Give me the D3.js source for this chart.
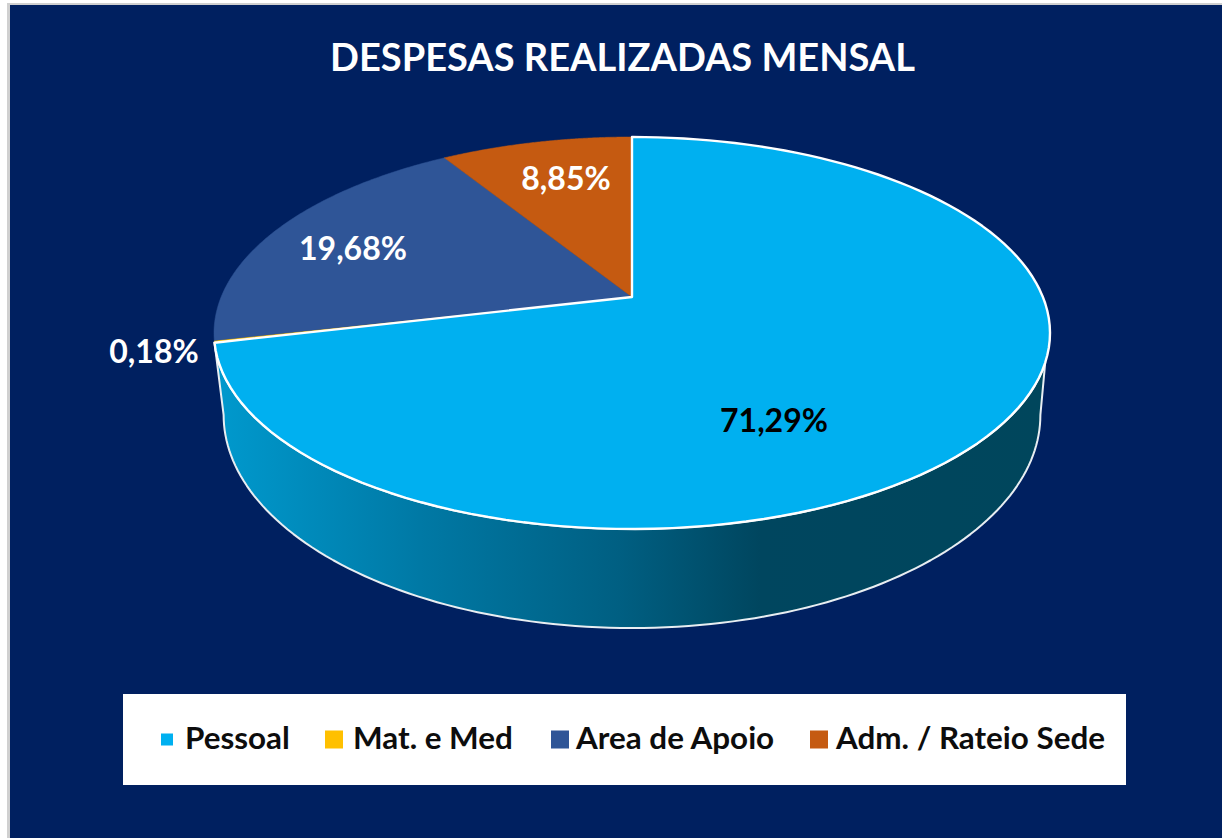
<!DOCTYPE html>
<html>
<head>
<meta charset="utf-8">
<script src="https://cdn.jsdelivr.net/npm/d3@7"></script>
<style>
    html, body { margin: 0; padding: 0; background: #fff; }
    svg { display: block; }
    text { font-family: Lato, "Noto Sans", sans-serif; font-weight: 700; }
</style>
</head>
<body>
<svg id="chart" width="1222" height="838"></svg>
<script>
const TITLE = "DESPESAS REALIZADAS MENSAL";
const CATEGORIES = ["Pessoal", "Mat. e Med", "Area de Apoio", "Adm. / Rateio Sede"];
const VALUES = [71.29, 0.18, 19.68, 8.85];
const COLORS = ["#00B0F0", "#FFC000", "#2F5597", "#C55A11"];

// layout
const W = 1222, H = 838;
const cx = 632, apexY = 297;
const rimBack = 160, rimFront = 232;     // apex to back / front of the top rim
const rimRx = 418;
const rimBottomY = 529, wallBottomY = 628;
const bottomScaleX = 0.977, bottomScaleY = 1.087;
const labelXY = [[774, 432], [154, 363], [353, 260], [566, 190]];
const labelFill = ["#000", "#fff", "#fff", "#fff"];
const legendXY = [
    { key: 161, size: 12, text: 185 },
    { key: 325, size: 18, text: 353 },
    { key: 551, size: 18, text: 576 },
    { key: 810, size: 18, text: 836 },
];

const svg = d3.select("#chart");

// ── Perspective disc ───────────────────────────────────────────────────────
// maps a pie angle (clockwise from 12 o'clock) onto the tilted top rim
const k = (rimFront - rimBack) / (rimFront + rimBack);
const a = rimFront * (1 - k);
const b = rimRx * Math.sqrt(1 - k * k);

function rim(angle) {
    const u = Math.sin(angle), v = -Math.cos(angle);
    const d = 1 - k * v;
    return [cx + b * u / d, apexY + a * v / d];
}
function bottom(angle) {
    const p = rim(angle);
    return [cx + (p[0] - cx) * bottomScaleX, wallBottomY - (rimBottomY - p[1]) * bottomScaleY];
}
function arcPoints(fn, from, to) {
    return d3.range(0, 121).map(i => fn(from + (to - from) * i / 120));
}

const line = d3.line();
const pie = d3.pie().sort(null).value(d => d);
const arcs = pie(VALUES);

// ── Frame ──────────────────────────────────────────────────────────────────
svg.append("rect").attr("x", 7).attr("y", 3).attr("width", W - 7).attr("height", H - 3).attr("fill", "#d0d0d0");
svg.append("rect").attr("x", 10).attr("y", 5).attr("width", W - 10).attr("height", H - 5).attr("fill", "#002060");

svg.append("text")
    .attr("x", 622.5).attr("y", 71)
    .attr("text-anchor", "middle")
    .attr("font-size", 38)
    .attr("fill", "#fff")
    .text(TITLE);

// ── Side wall ──────────────────────────────────────────────────────────────
const grad = svg.append("defs").append("linearGradient")
    .attr("id", "wall")
    .attr("gradientUnits", "userSpaceOnUse")
    .attr("x1", 224).attr("x2", 1040).attr("y1", 0).attr("y2", 0);
[[0, "#0098CC"], [0.24, "#0079A5"], [0.485, "#005F82"], [0.657, "#00465F"], [1, "#00465C"]]
    .forEach(s => grad.append("stop").attr("offset", s[0]).attr("stop-color", s[1]));

const pessoalEnd = arcs[0].endAngle;
const sideR = Math.acos(-k), sideL = 2 * Math.PI - sideR;
const wallStart = 109 * Math.PI / 180;
const wallPts = arcPoints(rim, wallStart, pessoalEnd)
    .concat(arcPoints(bottom, sideL, sideR));

svg.append("path")
    .attr("d", line(wallPts) + "Z")
    .attr("fill", "url(#wall)")
    .attr("stroke", "#e8eef2").attr("stroke-width", 2)
    .attr("stroke-linejoin", "round");

// ── Top of the pie ─────────────────────────────────────────────────────────
function slicePath(d) {
    return line([[cx, apexY]].concat(arcPoints(rim, d.startAngle, d.endAngle))) + "Z";
}

// small slices first, Pessoal and its white outline above them
const order = [1, 2, 3, 0];
svg.append("g").selectAll("path")
    .data(order.map(i => arcs[i]))
    .join("path")
    .attr("d", slicePath)
    .attr("fill", d => COLORS[d.index])
    .attr("stroke", d => d.index === 0 ? "#fff" : COLORS[d.index])
    .attr("stroke-width", d => d.index === 0 ? 2.4 : 0.5)
    .attr("stroke-linejoin", "round");

// ── Data labels ────────────────────────────────────────────────────────────
svg.append("g").selectAll("text")
    .data(VALUES)
    .join("text")
    .attr("x", (d, i) => labelXY[i][0])
    .attr("y", (d, i) => labelXY[i][1])
    .attr("text-anchor", "middle")
    .attr("font-size", 32)
    .attr("fill", (d, i) => labelFill[i])
    .text(d => d.toFixed(2).replace(".", ",") + "%");

// ── Legend ─────────────────────────────────────────────────────────────────
svg.append("rect")
    .attr("x", 123).attr("y", 694).attr("width", 1003).attr("height", 91)
    .attr("fill", "#fff");

const legend = svg.append("g").selectAll("g")
    .data(CATEGORIES)
    .join("g");
legend.append("rect")
    .attr("x", (d, i) => legendXY[i].key)
    .attr("y", (d, i) => 739.5 - legendXY[i].size / 2)
    .attr("width", (d, i) => legendXY[i].size)
    .attr("height", (d, i) => legendXY[i].size)
    .attr("fill", (d, i) => COLORS[i]);
legend.append("text")
    .attr("x", (d, i) => legendXY[i].text)
    .attr("y", 749)
    .attr("font-size", 31.4)
    .attr("fill", "#0d0d0d")
    .text(d => d);
</script>
</body>
</html>
